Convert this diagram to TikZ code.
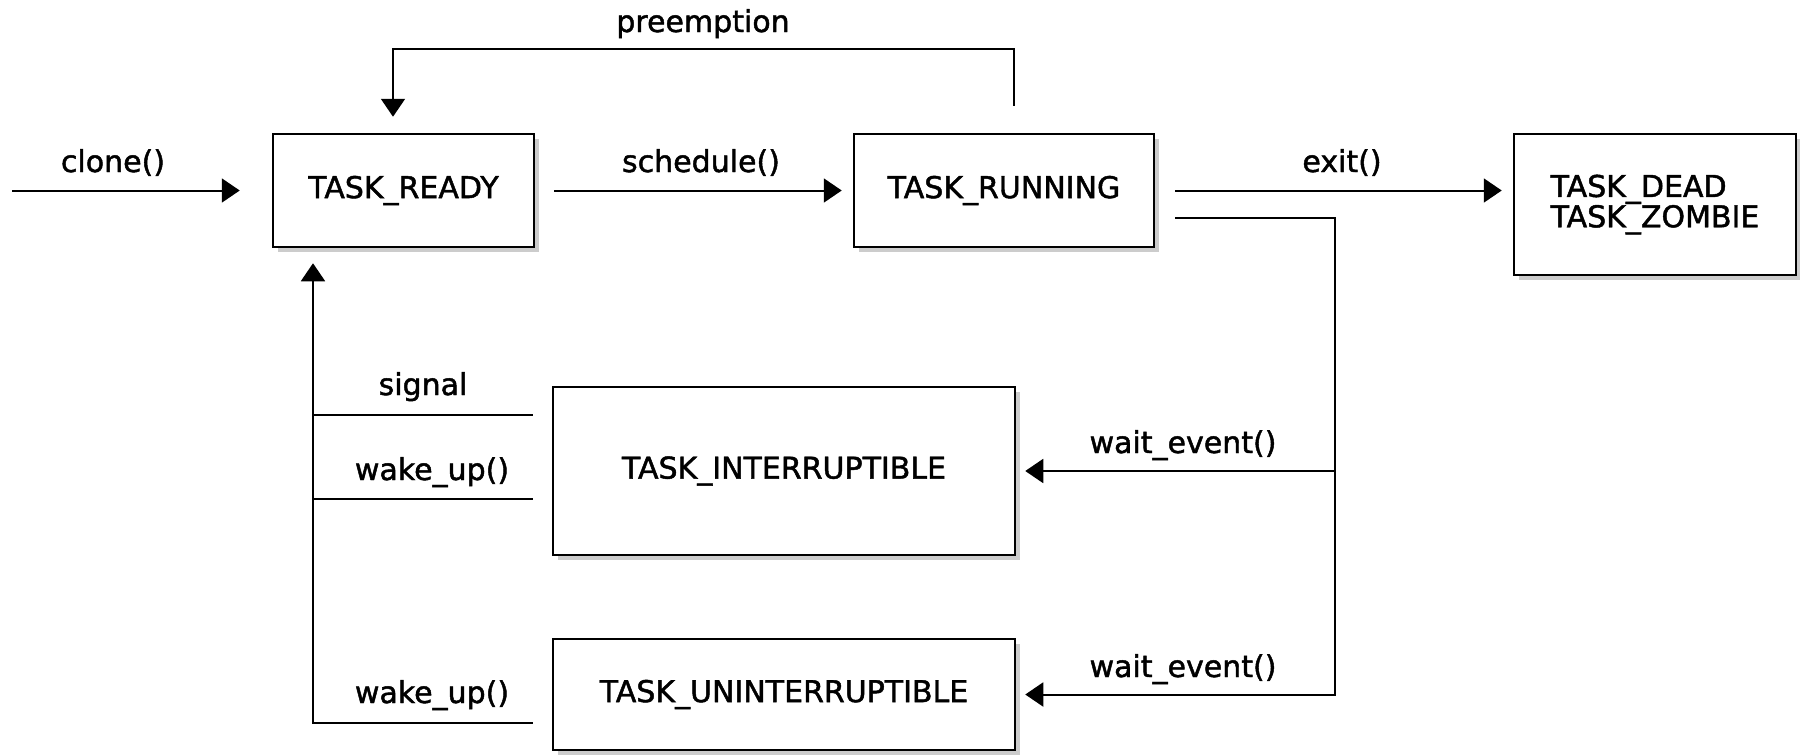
\documentclass[tikz,border=0pt]{standalone}
\usepackage{fontspec}
\setmainfont{DejaVu Sans}
\newfontfamily\diagfont{DejaVu Sans}[FakeBold=1.5]
\usetikzlibrary{arrows.meta,shadows}
\begin{document}
\begin{tikzpicture}[x=1pt,y=-1pt,
  state/.style={draw=black, line width=2.5pt, fill=white, inner sep=0pt,
    font=\diagfont\fontsize{30}{28}\selectfont,
    drop shadow={shadow xshift=5pt, shadow yshift=-5pt, fill=black, opacity=0.2}},
  conn/.style={line width=2pt, draw=black},
  arr/.style={conn, -{Triangle[length=18pt,width=24pt]}},
  lbl/.style={font=\diagfont\fontsize{30}{36}\selectfont, anchor=base, inner sep=0pt}]
\useasboundingbox (0,0) rectangle (1800,755);

\node[state, minimum width=261pt, minimum height=113pt] (ready) at (403.5,190.5) {TASK\_READY};
\node[state, minimum width=300pt, minimum height=113pt] (running) at (1004,190.5) {TASK\_RUNNING};
\node[state, minimum width=282pt, minimum height=141pt, align=left] (dead) at (1655,204.5) {TASK\_DEAD\\TASK\_ZOMBIE};
\node[state, minimum width=462pt, minimum height=168pt] (inter) at (784,471) {TASK\_INTERRUPTIBLE};
\node[state, minimum width=462pt, minimum height=111pt] (unint) at (784,694.5) {TASK\_UNINTERRUPTIBLE};

\coordinate (start) at (12,190.5);
\draw[arr, shorten >=32pt] (start) -- (ready.west);
\draw[arr, shorten <=19pt, shorten >=11pt] (ready.east) -- (running.west);
\draw[arr, shorten <=20pt, shorten >=11pt] (running.east) -- (running.east -| dead.west);
\draw[arr] ([shift={(10pt,27pt)}]running.north) -- ++(0,-57) -| ([shift={(-10.5pt,16pt)}]ready.north);

\draw[arr] ([shift={(20pt,-27.5pt)}]running.east) -| ([xshift=319pt]unint.east) -- ([xshift=9pt]unint.east);
\draw[arr] ([xshift=319pt]inter.east) -- ([xshift=9pt]inter.east);

\draw[arr] ([shift={(-19pt,-28.5pt)}]unint.west) -| ([shift={(-90.5pt,-15pt)}]ready.south);
\draw[conn] ([shift={(-19pt,56pt)}]inter.west) -- ++(-221,0);
\draw[conn] ([shift={(-19pt,-28pt)}]inter.west) -- ++(-221,0);

\node[lbl] (lclone) at (113,172) {clone()};
\node[lbl] (lsched) at (701,172) {schedule()};
\node[lbl] (lexit) at (1342,172) {exit()};
\node[lbl] (lpre) at (703,32) {preemption};
\node[lbl] (lsig) at (423,395) {signal};
\node[lbl] (lwake1) at (432,480) {wake\_up()};
\node[lbl] (lwake2) at (432,703) {wake\_up()};
\node[lbl] (lwait1) at (1183,453) {wait\_event()};
\node[lbl] (lwait2) at (1183,677) {wait\_event()};
\end{tikzpicture}
\end{document}
